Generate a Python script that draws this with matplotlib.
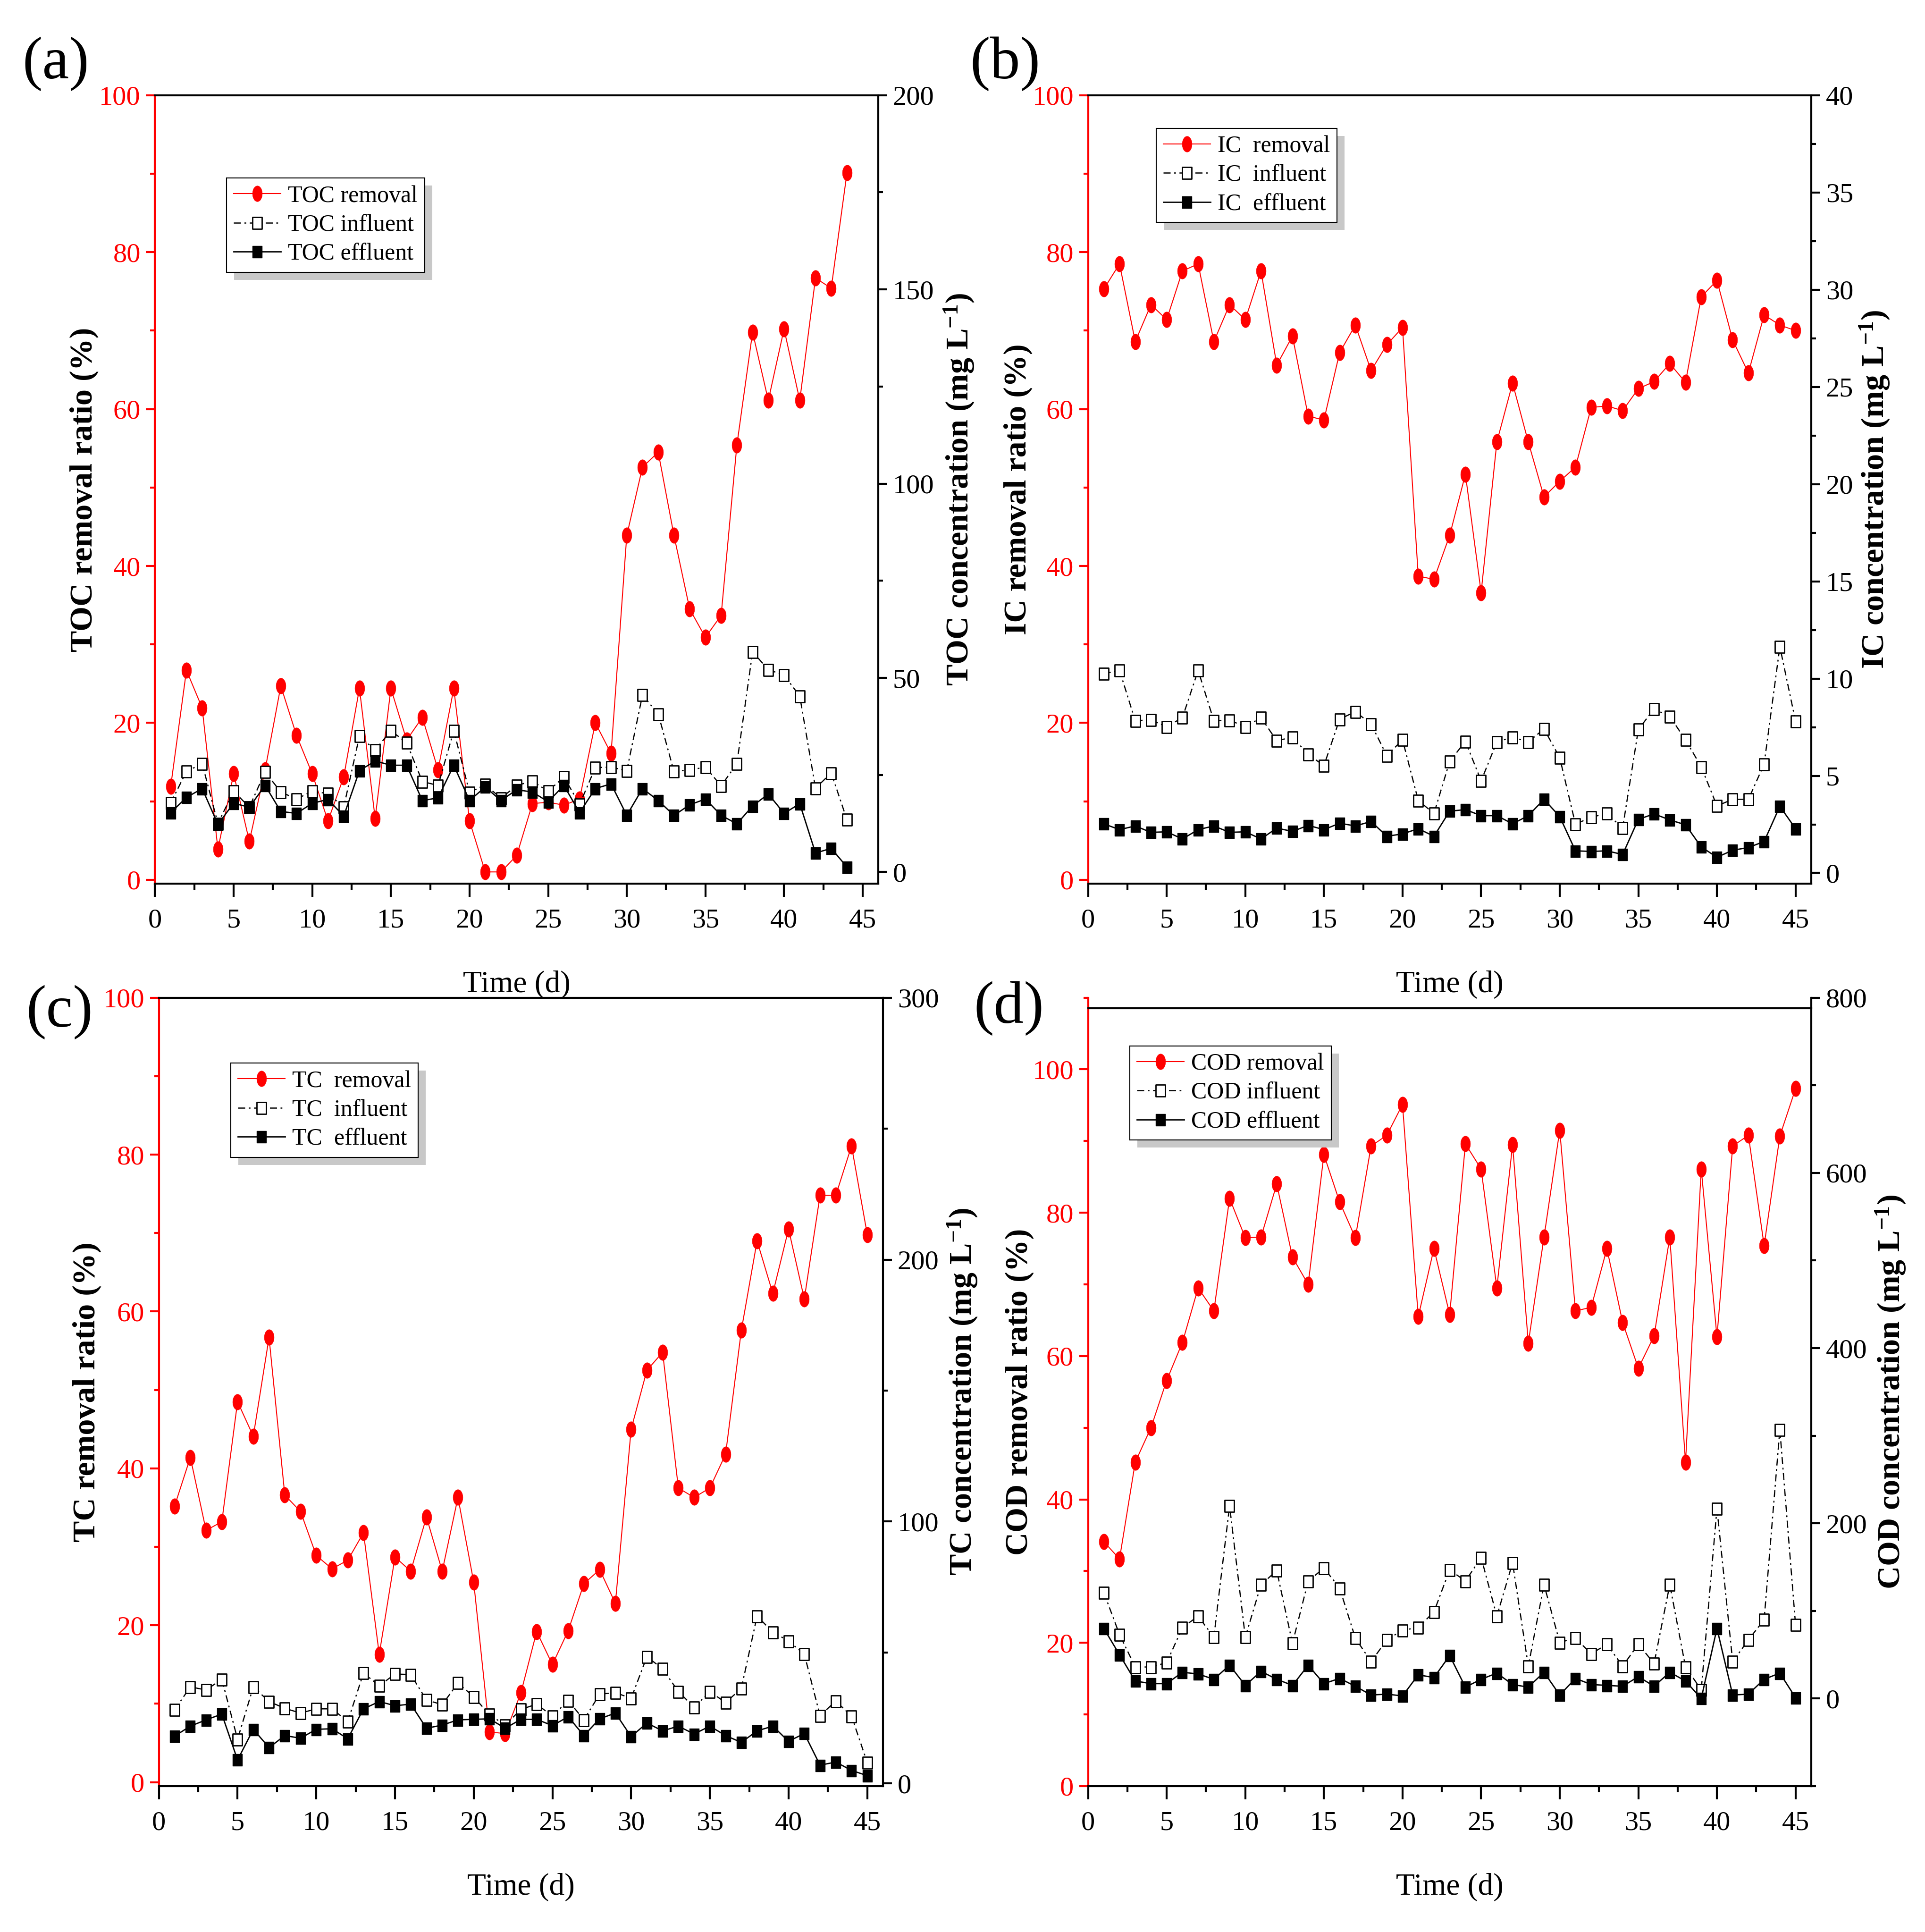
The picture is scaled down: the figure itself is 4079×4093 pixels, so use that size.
import matplotlib
matplotlib.use("Agg")
import numpy as np
import matplotlib.pyplot as plt
from matplotlib.path import Path
from matplotlib.ticker import MultipleLocator
from matplotlib.patches import Rectangle
from matplotlib.transforms import IdentityTransform

plt.rcParams['font.family'] = ['Liberation Serif', 'DejaVu Serif']
plt.rcParams['mathtext.fontset'] = 'custom'
plt.rcParams['mathtext.rm'] = 'Liberation Serif'
plt.rcParams['mathtext.bf'] = 'Liberation Serif:bold'
plt.rcParams['mathtext.it'] = 'Liberation Serif:italic'

# ---------------- data ----------------
days_a = list(range(1, 45))
days_bcd = list(range(1, 46))

toc_removal = [11.9, 26.7, 21.9, 3.9, 13.5, 4.9, 14.0, 24.7, 18.4, 13.5, 7.5, 13.1, 24.4, 7.8, 24.4,
               17.8, 20.7, 14.0, 24.4, 7.5, 1.0, 1.0, 3.1, 9.7, 9.9, 9.5, 10.3, 20.0, 16.1, 43.9,
               52.6, 54.5, 43.9, 34.5, 30.9, 33.7, 55.4, 69.8, 61.1, 70.2, 61.1, 76.7, 75.4, 90.1]
toc_influent = [17.8, 25.9, 27.9, 12.5, 20.8, 16.7, 25.8, 20.6, 18.8, 20.8, 20.2, 16.7, 35.0, 31.4, 36.4,
                33.3, 23.3, 22.3, 36.4, 20.5, 22.5, 19.0, 22.3, 23.4, 20.8, 24.5, 17.4, 26.9, 27.0, 26.1,
                45.6, 40.7, 25.9, 26.3, 27.0, 22.2, 27.9, 56.7, 52.1, 50.7, 45.3, 21.6, 25.5, 13.5]
toc_effluent = [15.3, 19.2, 21.5, 12.3, 17.7, 16.7, 22.3, 15.6, 15.1, 17.7, 18.7, 14.4, 26.1, 28.6, 27.5,
                27.5, 18.4, 19.1, 27.5, 18.4, 21.9, 18.4, 21.2, 20.6, 18.1, 22.3, 15.3, 21.5, 22.7, 14.6,
                21.5, 18.4, 14.6, 17.3, 18.8, 14.6, 12.4, 17.0, 20.1, 15.1, 17.6, 4.9, 6.1, 1.3]

ic_removal = [75.3, 78.5, 68.6, 73.3, 71.4, 77.6, 78.5, 68.6, 73.3, 71.4, 77.6, 65.6, 69.3, 59.1, 58.6,
              67.2, 70.7, 64.9, 68.2, 70.4, 38.7, 38.3, 43.9, 51.7, 36.6, 55.8, 63.3, 55.8, 48.8, 50.8,
              52.6, 60.2, 60.4, 59.8, 62.6, 63.5, 65.8, 63.4, 74.3, 76.4, 68.8, 64.6, 72.0, 70.7, 70.0]
ic_influent = [10.25, 10.42, 7.83, 7.88, 7.52, 7.99, 10.42, 7.83, 7.86, 7.52, 7.99, 6.80, 6.99, 6.10, 5.52,
               7.91, 8.30, 7.66, 6.04, 6.85, 3.73, 3.06, 5.74, 6.77, 4.74, 6.74, 6.99, 6.74, 7.41, 5.93,
               2.51, 2.87, 3.06, 2.31, 7.38, 8.44, 8.05, 6.85, 5.46, 3.45, 3.79, 3.79, 5.60, 11.64, 7.80]
ic_effluent = [2.53, 2.23, 2.42, 2.09, 2.12, 1.75, 2.23, 2.42, 2.09, 2.12, 1.75, 2.31, 2.14, 2.45, 2.23,
               2.56, 2.42, 2.65, 1.89, 2.01, 2.28, 1.89, 3.18, 3.26, 2.95, 2.95, 2.53, 2.95, 3.79, 2.90,
               1.14, 1.11, 1.14, 0.95, 2.76, 3.04, 2.73, 2.48, 1.34, 0.81, 1.17, 1.31, 1.62, 3.43, 2.28]

tc_removal = [35.2, 41.4, 32.1, 33.2, 48.5, 44.1, 56.7, 36.6, 34.5, 28.9, 27.2, 28.3, 31.8, 16.3, 28.7,
              26.9, 33.8, 26.9, 36.3, 25.5, 6.4, 6.2, 11.4, 19.2, 15.0, 19.3, 25.3, 27.1, 22.8, 45.0,
              52.5, 54.8, 37.5, 36.3, 37.5, 41.8, 57.6, 69.0, 62.3, 70.5, 61.6, 74.8, 74.8, 81.1, 69.8]
tc_influent = [28.1, 36.9, 35.7, 39.8, 16.9, 36.9, 31.3, 28.7, 26.9, 28.5, 28.5, 23.7, 42.2, 37.3, 41.8,
               41.6, 31.9, 30.1, 38.4, 33.1, 26.3, 22.3, 28.3, 30.3, 25.7, 31.7, 24.3, 34.1, 34.7, 32.5,
               48.4, 43.8, 35.1, 29.1, 35.1, 30.9, 36.3, 63.9, 57.8, 54.4, 49.4, 25.9, 31.5, 25.7, 8.0]
tc_effluent = [18.1, 21.9, 24.3, 26.5, 9.0, 20.7, 13.7, 18.3, 17.3, 20.7, 20.9, 17.1, 28.5, 31.3, 29.7,
               30.3, 21.1, 22.3, 24.3, 24.5, 24.7, 21.1, 24.5, 24.5, 22.1, 25.5, 18.3, 24.7, 26.9, 17.9,
               23.1, 20.1, 21.9, 18.9, 21.9, 18.3, 15.7, 20.1, 21.9, 16.1, 19.1, 7.0, 8.2, 5.0, 3.0]

cod_removal = [34.1, 31.7, 45.2, 50.0, 56.6, 61.9, 69.5, 66.3, 82.0, 76.5, 76.6, 84.0, 73.8, 70.0, 88.1,
               81.5, 76.5, 89.3, 90.8, 95.1, 65.5, 75.0, 65.8, 89.6, 86.1, 69.5, 89.5, 61.8, 76.6, 91.5,
               66.3, 66.8, 75.0, 64.7, 58.3, 62.8, 76.6, 45.2, 86.1, 62.7, 89.3, 90.8, 75.4, 90.7, 97.3]
cod_influent = [121, 73, 36, 36, 41, 81, 94, 70, 220, 70, 130, 146, 63, 134, 149,
                126, 69, 42, 67, 78, 81, 99, 147, 134, 161, 94, 155, 37, 130, 64,
                69, 51, 62, 37, 62, 40, 130, 36, 10, 217, 42, 67, 90, 307, 84]
cod_effluent = [80, 50, 20, 17, 17, 30, 28, 22, 38, 15, 31, 22, 15, 38, 17,
                23, 14, 4, 5, 3, 27, 24, 49, 13, 22, 29, 16, 13, 30, 4,
                23, 16, 15, 14, 25, 14, 30, 20, 0, 80, 4, 5, 22, 29, 1]

panel_letters = ['(a)', '(b)', '(c)', '(d)']
left_labels = ['TOC removal ratio (%)', 'IC removal ratio (%)', 'TC removal ratio (%)', 'COD removal ratio (%)']
right_labels = [r'TOC concentration (mg L$^{\mathbf{-1}}$)', r'IC concentration (mg L$^{\mathbf{-1}}$)',
                r'TC concentration (mg L$^{\mathbf{-1}}$)', r'COD concentration (mg L$^{\mathbf{-1}}$)']
legend_labels = [['TOC removal', 'TOC influent', 'TOC effluent'],
                 ['IC  removal', 'IC  influent', 'IC  effluent'],
                 ['TC  removal', 'TC  influent', 'TC  effluent'],
                 ['COD removal', 'COD influent', 'COD effluent']]
x_label = 'Time (d)'

# ---------------- styling / layout ----------------
positions = [[0.0805, 0.5426, 0.3757, 0.4081],
             [0.5651, 0.5426, 0.3756, 0.4081],
             [0.0825, 0.0755, 0.3761, 0.4081],
             [0.5651, 0.0755, 0.3756, 0.4081]]
left_lims = [(-0.5, 100), (-0.5, 100), (-0.5, 100), (0, 110)]
right_lims = [(-3, 200), (-0.55, 40), (-1, 300), (-100, 800)]
right_major = [50, 5, 100, 200]
right_minor = [25, 2.5, 50, 100]
left_minor = [10, 10, 10, 10]
leg_anchor = [(0.099, 0.895), (0.094, 0.958), (0.099, 0.917), (0.058, 0.939)]
letter_pos = [(0.029, 0.967), (0.522, 0.967), (0.031, 0.476), (0.524, 0.478)]
left_lab_x = [-0.098, -0.097, -0.099, -0.095]
right_lab_x = [1.112, 1.088, 1.110, 1.110]

datasets = [(days_a, toc_removal, toc_influent, toc_effluent),
            (days_bcd, ic_removal, ic_influent, ic_effluent),
            (days_bcd, tc_removal, tc_influent, tc_effluent),
            (days_bcd, cod_removal, cod_influent, cod_effluent)]

th = np.linspace(0, 2 * np.pi, 61)
ellipse_marker = Path(np.column_stack([0.62 * np.cos(th), np.sin(th)]), closed=True)
rect_marker = Path([(-0.8, -1), (0.8, -1), (0.8, 1), (-0.8, 1), (-0.8, -1)], closed=True)

TICK_FS = 42
LAB_FS = 49
LEG_FS = 36
SPINE_W = 3.0

fig = plt.figure(figsize=(40.8, 40.93), dpi=100)
legends = []

for i in range(4):
    days, rem, inf, eff = datasets[i]
    ax = fig.add_axes(positions[i])
    ax2 = ax.twinx()
    ax.set_facecolor('none')
    ax2.set_facecolor('none')

    l1, = ax.plot(days, rem, color='red', lw=1.5, marker=ellipse_marker, ms=24,
                  mfc='red', mec='red', mew=0.5, zorder=3)
    l2, = ax2.plot(days, inf, color='black', lw=1.8, ls=(0, (6, 3, 1.5, 3)),
                   marker=rect_marker, ms=18, mfc='white', mec='black', mew=2.0, zorder=3)
    l3, = ax2.plot(days, eff, color='black', lw=2.0, ls='-',
                   marker=rect_marker, ms=18, mfc='black', mec='black', mew=1.0, zorder=4)

    ax.set_xlim(0, 46)
    ax.set_ylim(*left_lims[i])
    ax2.set_ylim(*right_lims[i])

    ax.xaxis.set_major_locator(MultipleLocator(5))
    ax.xaxis.set_minor_locator(MultipleLocator(2.5))
    ax.yaxis.set_major_locator(MultipleLocator(20))
    ax.yaxis.set_minor_locator(MultipleLocator(left_minor[i]))
    ax2.yaxis.set_major_locator(MultipleLocator(right_major[i]))
    ax2.yaxis.set_minor_locator(MultipleLocator(right_minor[i]))
    ax.set_yticks([0, 20, 40, 60, 80, 100])

    # spines
    for s in ['top', 'bottom', 'left', 'right']:
        ax.spines[s].set_linewidth(SPINE_W)
        ax2.spines[s].set_linewidth(SPINE_W)
    ax.spines['left'].set_color('red')
    ax.spines['right'].set_visible(False)
    ax2.spines['left'].set_visible(False)
    ax2.spines['top'].set_visible(False)
    ax2.spines['bottom'].set_visible(False)
    ax2.spines['right'].set_color('black')
    if i == 3:
        ax.spines['top'].set_visible(False)
        ax.axhline(108.5, color='black', lw=SPINE_W, zorder=5, clip_on=False)

    # ticks
    ax.tick_params(axis='x', which='major', direction='out', length=20, width=SPINE_W,
                   labelsize=TICK_FS, pad=18, colors='black')
    ax.tick_params(axis='x', which='minor', direction='out', length=9, width=SPINE_W)
    ax.tick_params(axis='y', which='major', direction='out', length=14, width=SPINE_W,
                   labelsize=TICK_FS, pad=8, colors='red', labelcolor='red')
    ax.tick_params(axis='y', which='minor', direction='out', length=7, width=SPINE_W, colors='red')
    ax2.tick_params(axis='y', which='major', direction='out', length=14, width=SPINE_W,
                    labelsize=TICK_FS, pad=8, colors='black')
    ax2.tick_params(axis='y', which='minor', direction='out', length=7, width=SPINE_W, colors='black')

    # labels
    ax.set_xlabel(x_label, fontsize=LAB_FS - 2, va='center')
    ax.xaxis.set_label_coords(0.5, -0.128)
    ax.set_ylabel(left_labels[i], fontsize=LAB_FS, fontweight='bold', va='center')
    ax.yaxis.set_label_coords(left_lab_x[i], 0.5)
    ax2.set_ylabel(right_labels[i], fontsize=LAB_FS, fontweight='bold', va='center', rotation=90)
    ax2.yaxis.set_label_coords(right_lab_x[i], 0.5)

    leg = ax2.legend([l1, l2, l3], legend_labels[i], loc='upper left',
                     bbox_to_anchor=leg_anchor[i], bbox_transform=ax.transAxes,
                     fontsize=LEG_FS, frameon=True, fancybox=False, framealpha=1,
                     edgecolor='black', borderpad=0.3, labelspacing=0.3,
                     handlelength=2.0, handletextpad=0.3, borderaxespad=0, numpoints=1)
    leg.get_frame().set_linewidth(1.5)
    leg.set_zorder(10)
    legends.append((ax2, leg))

    fig.text(letter_pos[i][0], letter_pos[i][1], panel_letters[i], fontsize=92,
             ha='center', va='center')

# legend shadows
fig.canvas.draw()
for ax2, leg in legends:
    bb = leg.get_window_extent()
    sh = Rectangle((bb.x0 + 16, bb.y0 - 16), bb.width, bb.height,
                   transform=IdentityTransform(), facecolor='#c8c8c8', edgecolor='none', zorder=9)
    ax2.add_artist(sh)

fig.savefig('out.png', dpi=100, facecolor='white')
